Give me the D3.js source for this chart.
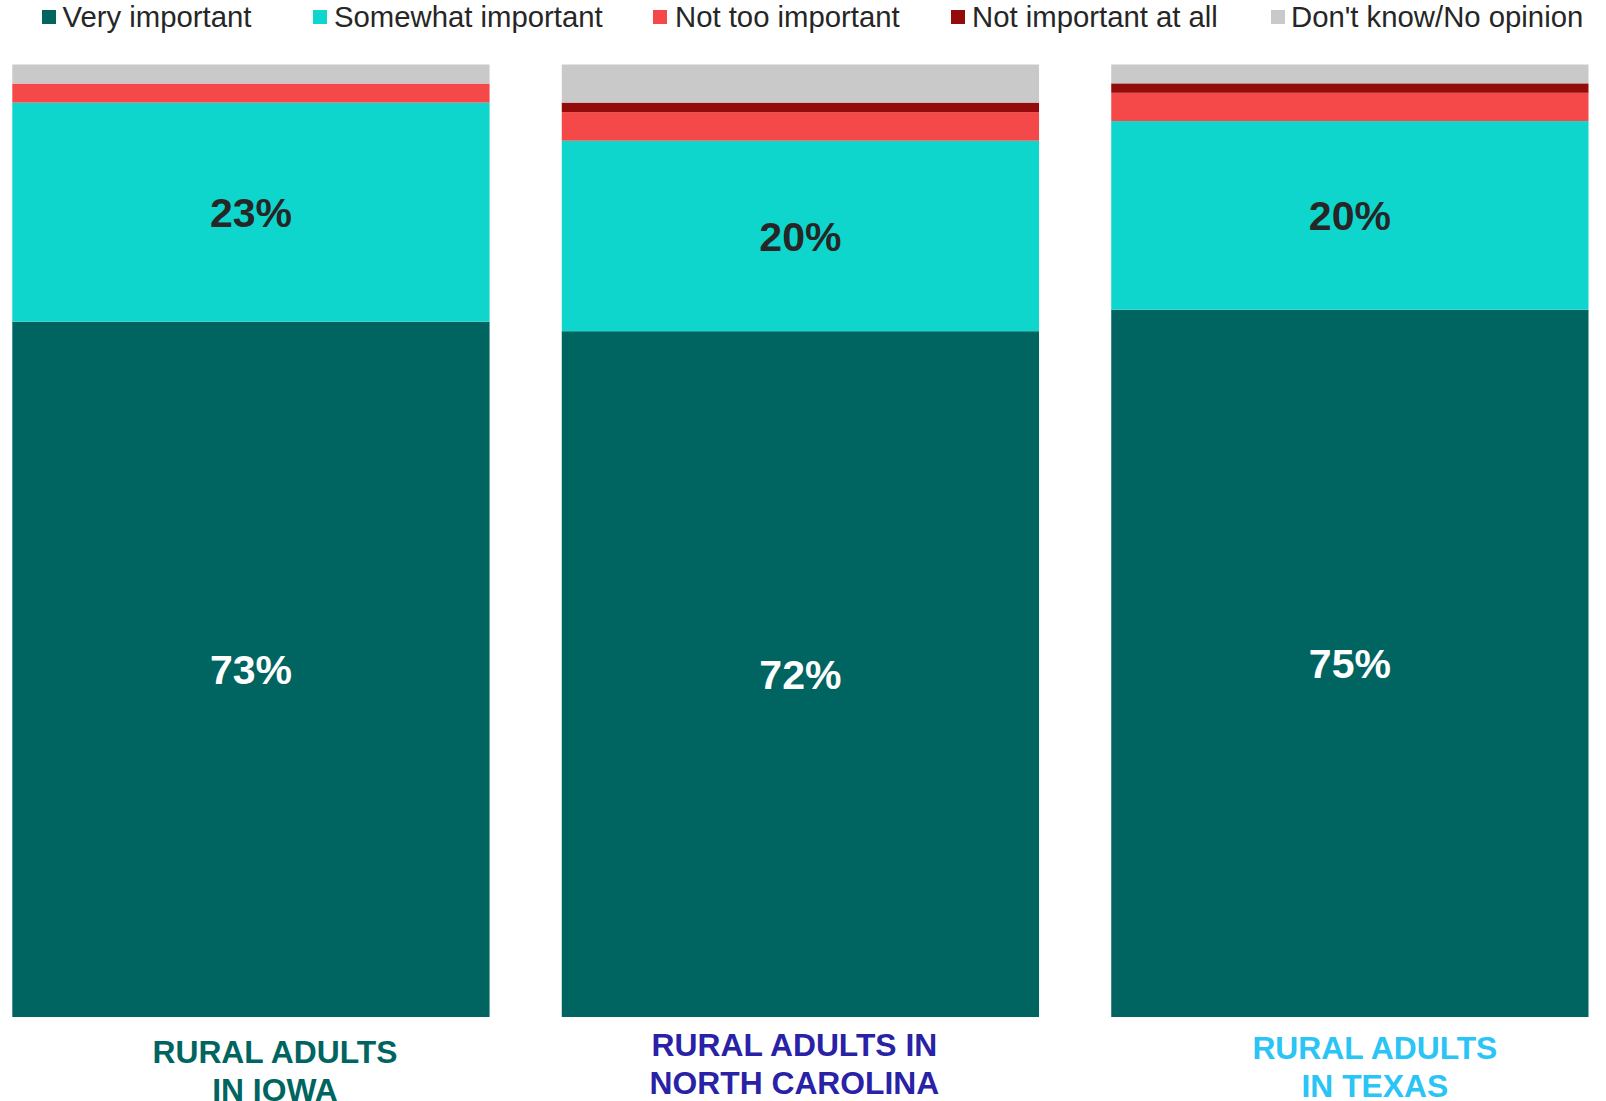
<!DOCTYPE html>
<html>
<head>
<meta charset="utf-8">
<script src="https://cdn.jsdelivr.net/npm/d3@7"></script>
<style>
  html, body { margin: 0; padding: 0; background: #ffffff; }
  svg { display: block; font-family: "Liberation Sans", Arial, sans-serif; }
</style>
</head>
<body>
<svg id="chart" width="1606" height="1101"></svg>
<script>
// ---- Data ----
const categories = ["RURAL ADULTS IN IOWA", "RURAL ADULTS IN NORTH CAROLINA", "RURAL ADULTS IN TEXAS"];
const categoryLines = [["RURAL ADULTS", "IN IOWA"], ["RURAL ADULTS IN", "NORTH CAROLINA"], ["RURAL ADULTS", "IN TEXAS"]];
const seriesNames = ["Very important", "Somewhat important", "Not too important", "Not important at all", "Don't know/No opinion"];
const veryImportant = [73, 72, 75];
const somewhatImportant = [23, 20, 20];
const notTooImportant = [2, 3, 3];
const notImportantAtAll = [0, 1, 1];
const dontKnow = [2, 4, 2];
const labeledSeries = ["Very important", "Somewhat important"];

// ---- Styles / layout ----
const colors = ["#006461", "#0fd6cc", "#f54848", "#930b0b", "#c9c9c9"];
const categoryColors = ["#006461", "#2a22a6", "#2ac4f5"];
const labelColors = { "Very important": "#ffffff", "Somewhat important": "#262626" };
const categoryLabelDx = [24, -6, 25];
const categoryLabelBaseline = [1062.5, 1056, 1058.5];
const legendSquareX = [42, 313, 653, 951, 1271];
const legendTextX = [62.5, 334, 675, 972, 1291];

const svg = d3.select("#chart");

const table = categories.map((c, i) => ({
  category: c,
  "Very important": veryImportant[i],
  "Somewhat important": somewhatImportant[i],
  "Not too important": notTooImportant[i],
  "Not important at all": notImportantAtAll[i],
  "Don't know/No opinion": dontKnow[i]
}));

const stack = d3.stack().keys(seriesNames).offset(d3.stackOffsetExpand);
const stacked = stack(table);

const x = d3.scaleBand().domain(categories).range([12.3, 1588.5]).paddingInner(0.1314).paddingOuter(0);
const y = d3.scaleLinear().domain([0, 1]).range([1017, 64.5]);
const color = d3.scaleOrdinal().domain(seriesNames).range(colors);

// Bars
const layers = svg.append("g").selectAll("g")
  .data(stacked).join("g")
  .attr("fill", d => color(d.key));

layers.selectAll("rect")
  .data(d => d.map(v => Object.assign(v, { key: d.key })))
  .join("rect")
  .attr("x", d => x(d.data.category))
  .attr("width", x.bandwidth())
  .attr("y", d => y(d[1]))
  .attr("height", d => Math.max(0, y(d[0]) - y(d[1])));

// Value labels
const labelG = svg.append("g");
stacked.filter(s => labeledSeries.includes(s.key)).forEach(s => {
  labelG.selectAll(null)
    .data(s).join("text")
    .attr("x", d => x(d.data.category) + x.bandwidth() / 2)
    .attr("y", d => (y(d[0]) + y(d[1])) / 2)
    .attr("text-anchor", "middle")
    .attr("dy", "0.36em")
    .attr("font-size", 41)
    .attr("font-weight", "bold")
    .attr("fill", labelColors[s.key])
    .text(d => d.data[s.key] + "%");
});

// Category labels
categories.forEach((c, i) => {
  const t = svg.append("text")
    .attr("text-anchor", "middle")
    .attr("font-size", 31.8)
    .attr("font-weight", "bold")
    .attr("fill", categoryColors[i]);
  categoryLines[i].forEach((line, j) => {
    t.append("tspan")
      .attr("x", x(c) + x.bandwidth() / 2 + categoryLabelDx[i])
      .attr("y", categoryLabelBaseline[i] + j * 38)
      .text(line);
  });
});

// Legend
const legend = svg.append("g");
seriesNames.forEach((s, i) => {
  legend.append("rect")
    .attr("x", legendSquareX[i]).attr("y", 10)
    .attr("width", 14).attr("height", 14)
    .attr("fill", color(s));
  legend.append("text")
    .attr("x", legendTextX[i]).attr("y", 26.5)
    .attr("font-size", 29.3)
    .attr("fill", "#262626")
    .text(s);
});
</script>
</body>
</html>
